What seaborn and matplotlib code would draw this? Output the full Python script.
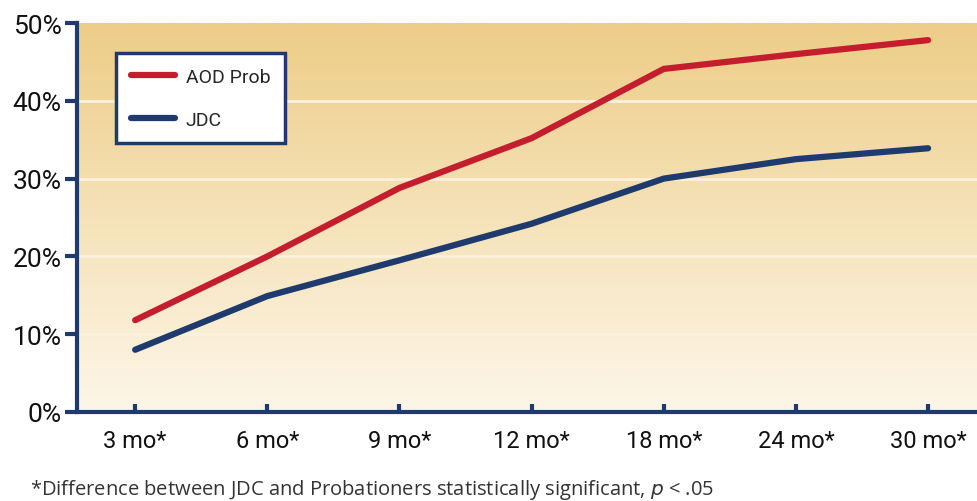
import numpy as np
import pandas as pd
import seaborn as sns
import matplotlib.pyplot as plt
from matplotlib.colors import LinearSegmentedColormap

categories = ["3 mo*", "6 mo*", "9 mo*", "12 mo*", "18 mo*", "24 mo*", "30 mo*"]
aod_prob = [11.8, 20.0, 28.8, 35.2, 44.1, 46.0, 47.8]
jdc = [8.0, 14.9, 19.5, 24.2, 30.0, 32.5, 33.9]
yticks = [0, 10, 20, 30, 40, 50]
ytick_labels = ["0%", "10%", "20%", "30%", "40%", "50%"]

df = pd.DataFrame({
    "cat": categories * 2,
    "x": list(range(len(categories))) * 2,
    "val": aod_prob + jdc,
    "series": ["AOD Prob"] * len(categories) + ["JDC"] * len(categories),
})

sns.set_style("white")
plt.rcParams["font.family"] = ["Roboto", "DejaVu Sans"]

navy = "#1F3B6E"
red = "#C41E2E"

fig = plt.figure(figsize=(9.77, 5.02), dpi=100)
ax = fig.add_axes([77 / 977, 1 - 413 / 502, 900 / 977, (413 - 24) / 502])

xmin, xmax = -0.44, 6.37
grad = np.linspace(0, 1, 256).reshape(-1, 1)
cmap = LinearSegmentedColormap.from_list("bg", ["#FDF6E8", "#F5E2B8", "#EDCD87"])
ax.imshow(grad, aspect="auto", cmap=cmap, origin="lower",
          extent=[xmin, xmax, 0, 50], zorder=0)

for y in [10, 20, 30, 40]:
    ax.axhline(y, color="#FBF1DC", lw=2, zorder=1)

sns.lineplot(data=df, x="x", y="val", hue="series", palette={"AOD Prob": red, "JDC": navy},
             lw=4.5, ax=ax, legend=True, zorder=3)

ax.set_xlim(xmin, xmax)
ax.set_ylim(0, 50)
ax.set_xticks(range(len(categories)))
ax.set_xticklabels(categories)
ax.set_yticks(yticks)
ax.set_yticklabels(ytick_labels)
ax.set_xlabel("")
ax.set_ylabel("")

for s in ["top", "right"]:
    ax.spines[s].set_visible(False)
for s in ["left", "bottom"]:
    ax.spines[s].set_color(navy)
    ax.spines[s].set_linewidth(3)
    ax.spines[s].set_zorder(5)

ax.tick_params(axis="x", direction="in", length=6, width=3, color=navy,
               labelsize=17, pad=12, labelcolor="#111111")
ax.tick_params(axis="y", direction="out", length=9, width=3, color=navy,
               labelsize=19, pad=2, labelcolor="#111111")
ax.tick_params(axis="x", bottom=True)
ax.tick_params(axis="y", left=True)

leg = ax.legend(loc="upper left", bbox_to_anchor=(39 / 900, 1 - 30 / 389),
                frameon=True, fancybox=False, fontsize=14, handlelength=2.3,
                handletextpad=0.55, labelspacing=1.3, borderpad=0.75,
                borderaxespad=0)
leg.get_frame().set_edgecolor(navy)
leg.get_frame().set_linewidth(2.5)
leg.get_frame().set_facecolor("white")
leg.get_frame().set_alpha(1)
for line in leg.get_lines():
    line.set_linewidth(4.5)

fig.text(372 / 977, 1 - 490 / 502,
         "*Difference between JDC and Probationers statistically significant, $p$ < .05",
         ha="center", va="center", fontsize=14.5, color="#333333",
         family=["Open Sans", "DejaVu Sans"])

fig.savefig("out.png", dpi=100)
